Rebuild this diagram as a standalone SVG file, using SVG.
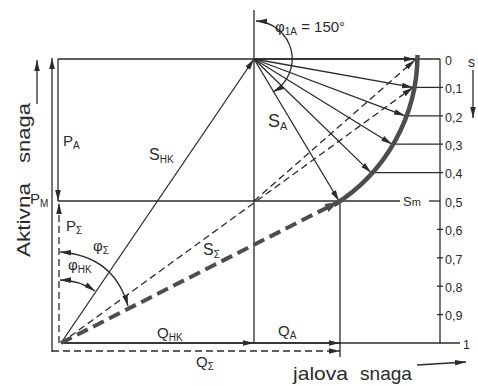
<svg xmlns="http://www.w3.org/2000/svg" width="478" height="385" viewBox="0 0 478 385">
<style>
.l{stroke:#2b2b2b;stroke-width:1.3;fill:none}
.d{stroke:#2b2b2b;stroke-width:1.3;fill:none;stroke-dasharray:7 4}
.thick{stroke:#4d4d4d;stroke-width:4.5;fill:none}
.td{stroke:#4d4d4d;stroke-width:4;fill:none;stroke-dasharray:12 6}
text{font-family:"Liberation Sans",Arial,sans-serif;fill:#2b2b2b}
.sc{font-size:12.5px}
</style>
<defs>
<marker id="a" markerUnits="userSpaceOnUse" markerWidth="12" markerHeight="8" refX="11" refY="4" orient="auto"><path d="M0,1.2 L11,4 L0,6.8z" fill="#2b2b2b"/></marker>
<marker id="as" markerUnits="userSpaceOnUse" markerWidth="12" markerHeight="8" refX="11" refY="4" orient="auto-start-reverse"><path d="M0,1.2 L11,4 L0,6.8z" fill="#2b2b2b"/></marker>
<marker id="ab" markerUnits="userSpaceOnUse" markerWidth="14" markerHeight="10" refX="13" refY="5" orient="auto"><path d="M0,0.5 L13,5 L0,9.5z" fill="#4d4d4d"/></marker>
</defs>

<g id="axes">
<line class="l" x1="52" y1="352" x2="52" y2="58" marker-end="url(#a)"/>
<line class="l" x1="37" y1="104" x2="37" y2="60" marker-end="url(#a)"/>
<line class="l" x1="58" y1="59" x2="440" y2="59"/>
<line class="l" x1="61" y1="343" x2="460" y2="343"/>
<line class="l" x1="254" y1="10" x2="254" y2="343"/>
<line class="l" x1="58" y1="201" x2="400" y2="201"/>
<line class="l" x1="429" y1="201" x2="440" y2="201"/>
<line class="l" x1="340" y1="201" x2="340" y2="357"/>
</g>

<g id="scale">
<line class="l" x1="440" y1="59" x2="440" y2="343"/>
<line class="l" x1="414" y1="87.4" x2="443" y2="87.4"/>
<line class="l" x1="406" y1="115.8" x2="443" y2="115.8"/>
<line class="l" x1="393" y1="144.2" x2="443" y2="144.2"/>
<line class="l" x1="373" y1="172.6" x2="443" y2="172.6"/>
<line class="l" x1="437" y1="229.4" x2="443" y2="229.4"/>
<line class="l" x1="437" y1="257.8" x2="443" y2="257.8"/>
<line class="l" x1="437" y1="286.2" x2="443" y2="286.2"/>
<line class="l" x1="437" y1="314.6" x2="443" y2="314.6"/>
<text class="sc" x="445" y="65">0</text>
<text class="sc" x="445" y="93">0,1</text>
<text class="sc" x="445" y="122">0,2</text>
<text class="sc" x="445" y="150">0,3</text>
<text class="sc" x="445" y="178">0,4</text>
<text class="sc" x="445" y="207">0,5</text>
<text class="sc" x="445" y="235">0,6</text>
<text class="sc" x="445" y="264">0,7</text>
<text class="sc" x="445" y="292">0,8</text>
<text class="sc" x="445" y="320">0,9</text>
<text class="sc" x="463" y="349">1</text>
<text x="468" y="67" font-size="14">s</text>
<line class="l" x1="473" y1="70" x2="473" y2="118" marker-end="url(#a)"/>
</g>

<g id="vectors">
<line class="l" x1="58" y1="59" x2="58" y2="201" marker-end="url(#a)"/>
<line class="d" x1="59" y1="343" x2="59" y2="203" marker-end="url(#a)"/>
<line class="l" x1="61" y1="343" x2="254" y2="59" marker-end="url(#a)"/>
<line class="l" x1="61" y1="343" x2="254" y2="343" marker-end="url(#a)"/>
<line class="l" x1="254" y1="343" x2="340" y2="343" marker-end="url(#a)"/>
<line class="d" x1="52" y1="351" x2="340" y2="351" marker-end="url(#a)"/>
<line class="l" x1="254" y1="59" x2="415" y2="59" marker-end="url(#a)"/>
<line class="l" x1="254" y1="59" x2="413" y2="87.4" marker-end="url(#a)"/>
<line class="l" x1="254" y1="59" x2="405" y2="115.8" marker-end="url(#a)"/>
<line class="l" x1="254" y1="59" x2="392" y2="144.2" marker-end="url(#a)"/>
<line class="l" x1="254" y1="59" x2="371" y2="172.6" marker-end="url(#a)"/>
<line class="l" x1="254" y1="59" x2="339" y2="201" marker-end="url(#a)"/>
<line class="d" x1="61" y1="343" x2="413" y2="87.4" marker-end="url(#a)"/>
<line class="d" x1="254" y1="201" x2="415" y2="60" marker-end="url(#a)"/>
<path class="thick" d="M417.5,55 A177,177 0 0 1 334,205"/>
<line class="td" x1="61" y1="343" x2="338" y2="202" marker-end="url(#ab)"/>
</g>

<g id="angles">
<path class="l" d="M256,21 A38,38 0 0 1 273,92" marker-start="url(#as)" marker-end="url(#as)"/>
<path class="l" d="M60,252 Q114,256 128,306" marker-start="url(#as)" marker-end="url(#as)"/>
<path class="l" d="M60,280 A63,63 0 0 1 95,291" marker-start="url(#as)" marker-end="url(#as)"/>
</g>

<g id="labels">
<text transform="translate(30,257) rotate(-90)" font-size="19" textLength="74" lengthAdjust="spacingAndGlyphs">Aktivna</text>
<text transform="translate(30,163) rotate(-90)" font-size="19" textLength="60" lengthAdjust="spacingAndGlyphs">snaga</text>
<text x="293" y="380" font-size="19" textLength="55" lengthAdjust="spacingAndGlyphs">jalova</text>
<text x="360" y="380" font-size="19" textLength="52" lengthAdjust="spacingAndGlyphs">snaga</text>
<line class="l" x1="417" y1="365" x2="466" y2="362" marker-end="url(#a)"/>
<text x="63" y="146" font-size="15">P<tspan font-size="10" dy="3">A</tspan></text>
<text x="30" y="204" font-size="15">P<tspan font-size="10" dy="3">M</tspan></text>
<text x="66" y="231" font-size="15">P<tspan font-size="10" dy="3">Σ</tspan></text>
<text x="149" y="160" font-size="16">S<tspan font-size="10" dy="3">HK</tspan></text>
<text x="268" y="127" font-size="18">S<tspan font-size="11" dy="3">A</tspan></text>
<text x="203" y="255" font-size="16">S<tspan font-size="10" dy="3">Σ</tspan></text>
<text x="403" y="206" font-size="13">S<tspan font-size="11">m</tspan></text>
<text x="275" y="32" font-size="15">φ<tspan font-size="10" dy="3">1A</tspan><tspan dy="-3"> = 150°</tspan></text>
<text x="93" y="251" font-size="15">φ<tspan font-size="10" dy="3">Σ</tspan></text>
<text x="68" y="270" font-size="15">φ<tspan font-size="10" dy="3">HK</tspan></text>
<text x="157" y="338" font-size="15">Q<tspan font-size="10" dy="3">HK</tspan></text>
<text x="278" y="336" font-size="15">Q<tspan font-size="10" dy="3">A</tspan></text>
<text x="196" y="367" font-size="15">Q<tspan font-size="10" dy="3">Σ</tspan></text>
</g>
</svg>
